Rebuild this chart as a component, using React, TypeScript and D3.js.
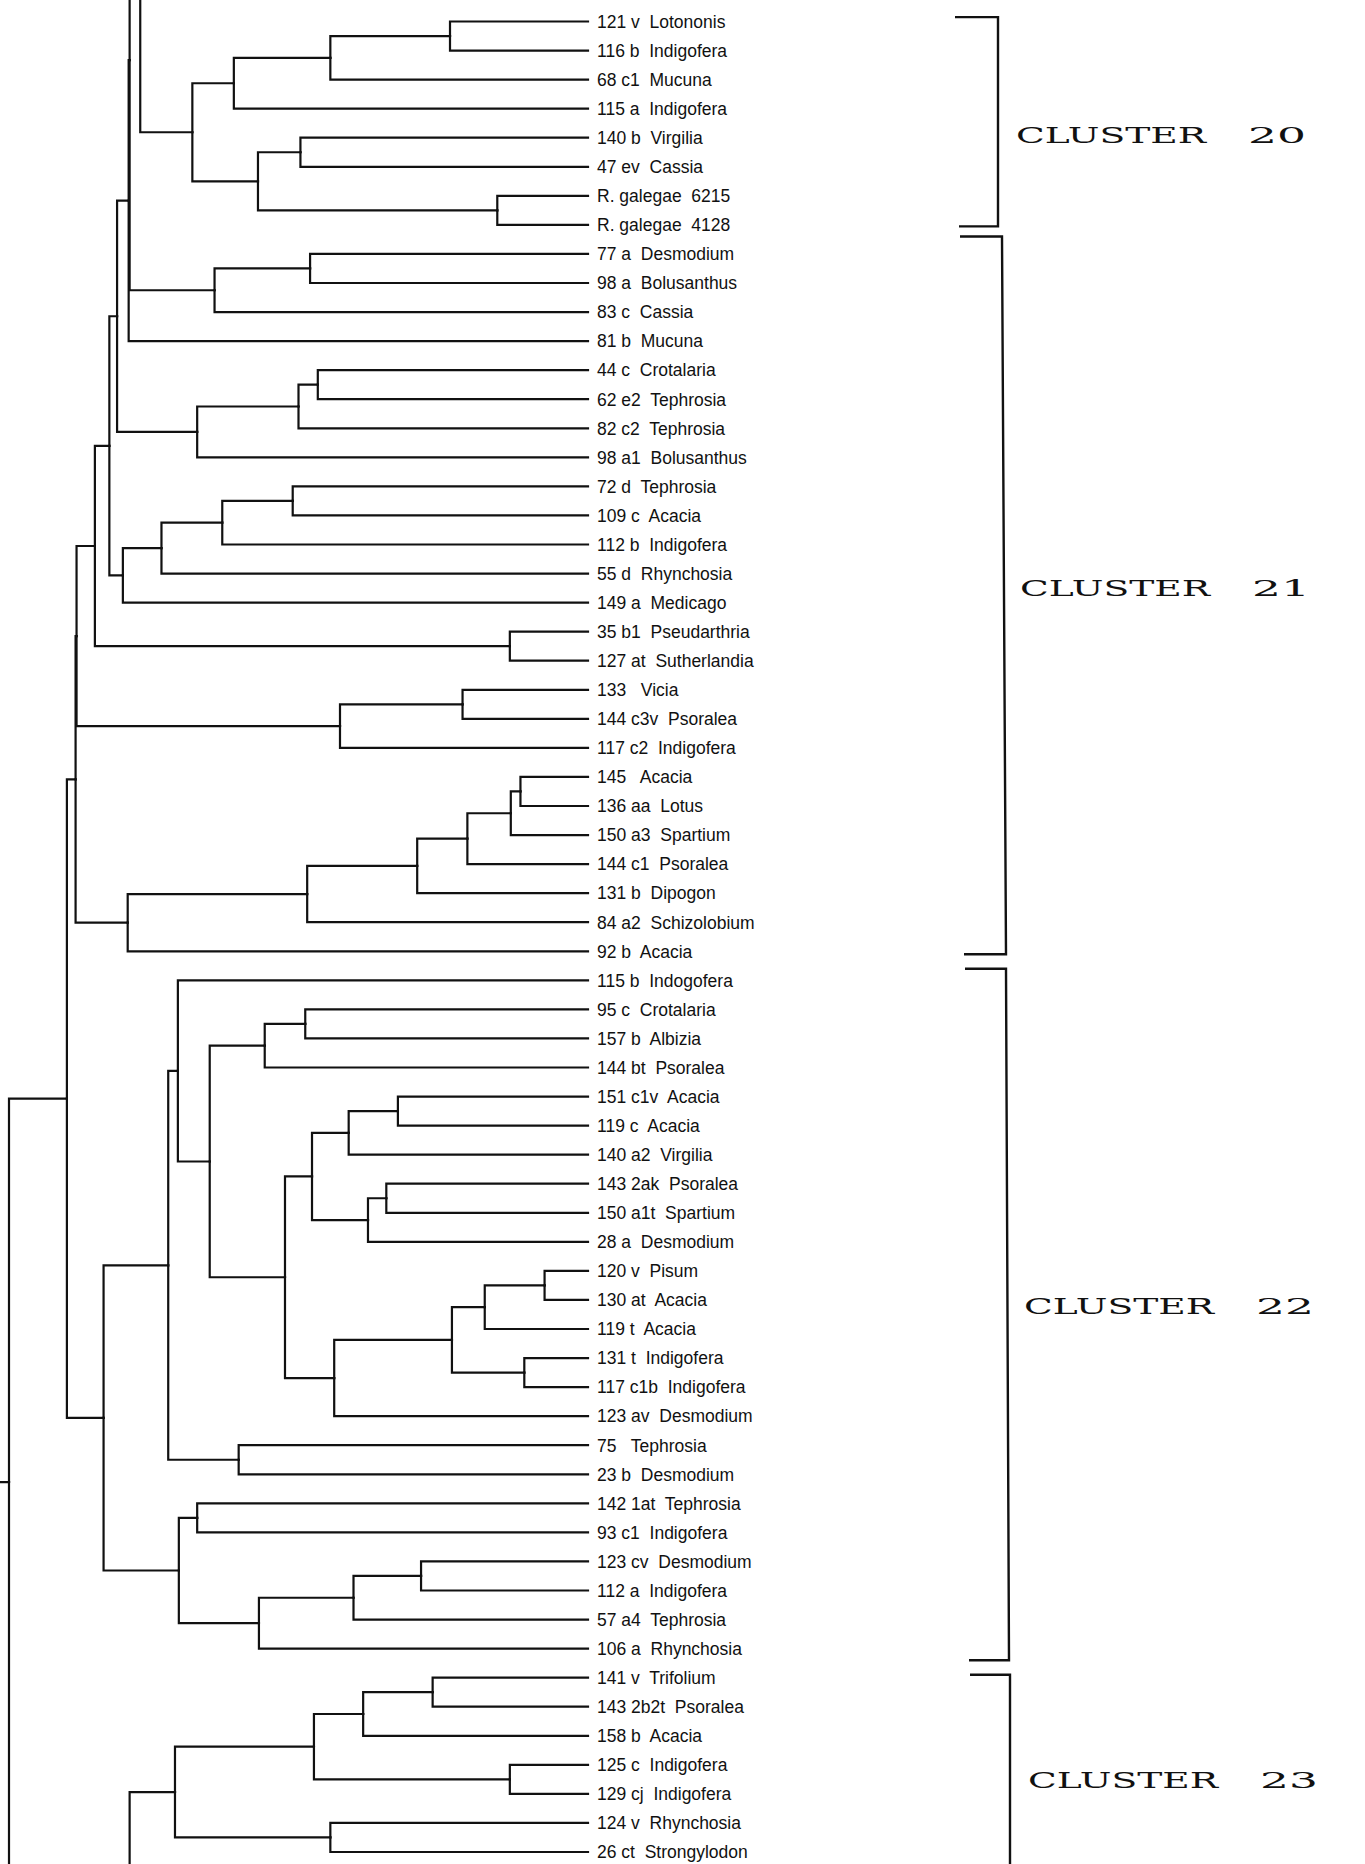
import { useEffect, useRef } from 'react'
import * as d3 from 'd3'

const W = 1365
const H = 1864

// strain labels, top to bottom
const leafLabels = [
    '121 v  Lotononis', '116 b  Indigofera', '68 c1  Mucuna', '115 a  Indigofera',
    '140 b  Virgilia', '47 ev  Cassia', 'R. galegae  6215', 'R. galegae  4128',
    '77 a  Desmodium', '98 a  Bolusanthus', '83 c  Cassia', '81 b  Mucuna',
    '44 c  Crotalaria', '62 e2  Tephrosia', '82 c2  Tephrosia', '98 a1  Bolusanthus',
    '72 d  Tephrosia', '109 c  Acacia', '112 b  Indigofera', '55 d  Rhynchosia',
    '149 a  Medicago', '35 b1  Pseudarthria', '127 at  Sutherlandia', '133   Vicia',
    '144 c3v  Psoralea', '117 c2  Indigofera', '145   Acacia', '136 aa  Lotus',
    '150 a3  Spartium', '144 c1  Psoralea', '131 b  Dipogon', '84 a2  Schizolobium',
    '92 b  Acacia', '115 b  Indogofera', '95 c  Crotalaria', '157 b  Albizia',
    '144 bt  Psoralea', '151 c1v  Acacia', '119 c  Acacia', '140 a2  Virgilia',
    '143 2ak  Psoralea', '150 a1t  Spartium', '28 a  Desmodium', '120 v  Pisum',
    '130 at  Acacia', '119 t  Acacia', '131 t  Indigofera', '117 c1b  Indigofera',
    '123 av  Desmodium', '75   Tephrosia', '23 b  Desmodium', '142 1at  Tephrosia',
    '93 c1  Indigofera', '123 cv  Desmodium', '112 a  Indigofera', '57 a4  Tephrosia',
    '106 a  Rhynchosia', '141 v  Trifolium', '143 2b2t  Psoralea', '158 b  Acacia',
    '125 c  Indigofera', '129 cj  Indigofera', '124 v  Rhynchosia', '26 ct  Strongylodon',
]

// branches that continue on the neighbouring pages (row numbers outside this page)
const offPage = [
    { id: 'above', row: -17 },
    { id: 'below', row: 66 },
    { id: 'rest', row: 100 },
]

// linkage table: [node, child a, child b, similarity %]
const merges: [string, number | string, number | string, number][] = [
    ['n1', 0, 1, 85.7], ['n2', 'n1', 2, 73.3], ['n3', 'n2', 3, 63.3],
    ['n4', 4, 5, 70.2], ['n5', 6, 7, 90.6], ['n6', 'n4', 'n5', 65.8],
    ['n7', 'n3', 'n6', 59.0], ['n8', 'above', 'n7', 53.6],
    ['n9', 8, 9, 71.2], ['n10', 'n9', 10, 61.3], ['n11', 'n8', 'n10', 52.5],
    ['n12', 'n11', 11, 52.4], ['n13', 12, 13, 72.0], ['n14', 'n13', 14, 70.0],
    ['n15', 'n14', 15, 59.5], ['n16', 'n12', 'n15', 51.2],
    ['n17', 16, 17, 69.4], ['n18', 'n17', 18, 62.1], ['n19', 'n18', 19, 55.8],
    ['n20', 'n19', 20, 51.8], ['n21', 'n16', 'n20', 50.4],
    ['n22', 21, 22, 91.9], ['n23', 'n21', 'n22', 48.9],
    ['n24', 23, 24, 87.0], ['n25', 'n24', 25, 74.3], ['n26', 'n23', 'n25', 47.0],
    ['n27', 26, 27, 93.0], ['n28', 'n27', 28, 92.0], ['n29', 'n28', 29, 87.5],
    ['n30', 'n29', 30, 82.3], ['n31', 'n30', 31, 70.9], ['n32', 'n31', 32, 52.3],
    ['n33', 'n26', 'n32', 46.9],
    ['n34', 34, 35, 70.7], ['n35', 'n34', 36, 66.5],
    ['n36', 37, 38, 80.3], ['n37', 'n36', 39, 75.2],
    ['n38', 40, 41, 79.1], ['n39', 'n38', 42, 77.2], ['n40', 'n37', 'n39', 71.4],
    ['n41', 43, 44, 95.5], ['n42', 'n41', 45, 89.3], ['n43', 46, 47, 93.4],
    ['n44', 'n42', 'n43', 85.9], ['n45', 'n44', 48, 73.7], ['n46', 'n40', 'n45', 68.6],
    ['n47', 'n35', 'n46', 60.8], ['n48', 33, 'n47', 57.5],
    ['n49', 49, 50, 63.8], ['n50', 'n48', 'n49', 56.5],
    ['n51', 51, 52, 59.5], ['n52', 53, 54, 82.7], ['n53', 'n52', 55, 75.7],
    ['n54', 'n53', 56, 65.9], ['n55', 'n51', 'n54', 57.6],
    ['n56', 'n50', 'n55', 49.8], ['n57', 'n33', 'n56', 46.0],
    ['n58', 57, 58, 83.9], ['n59', 'n58', 59, 76.7], ['n60', 60, 61, 91.9],
    ['n61', 'n59', 'n60', 71.6], ['n62', 62, 63, 73.3], ['n63', 'n61', 'n62', 57.2],
    ['n64', 'n63', 'below', 52.5],
    ['n65', 'n57', 'n64', 40.0],
    ['n66', 'n65', 'rest', 38.0],
]

const clusterNames = ['CLUSTER 20', 'CLUSTER 21', 'CLUSTER 22', 'CLUSTER 23']
// first / last row covered by each bracket
const clusterRows = [[-0.15, 7.05], [7.4, 32.1], [32.6, 56.4], [56.9, 70]]
const clusterLabelRow = [3.9, 19.5, 44.2, 60.5]

function buildTree() {
    const nodes: Record<string, any> = {}
    leafLabels.forEach((label, i) => { nodes[String(i)] = { id: String(i), row: i, label } })
    offPage.forEach(o => { nodes[o.id] = { id: o.id, row: o.row, label: '' } })
    merges.forEach(([id, a, b, sim]) => {
        nodes[id] = { id, sim, children: [nodes[String(a)], nodes[String(b)]] }
    })
    return nodes[merges[merges.length - 1][0]]
}

function Dendrogram() {
    const svgRef = useRef<SVGSVGElement>(null)

    useEffect(() => {
        if (!svgRef.current) return
        const svg = d3.select(svgRef.current)
        svg.selectAll('*').remove()

        const x = d3.scaleLinear().domain([40, 100]).range([9, 588])
        const y = d3.scaleLinear().domain([0, 63]).range([21.5, 1852])

        const root = d3.hierarchy(buildTree())
        // leaves sit on their rows, each join sits midway between its branches
        root.eachAfter((n: any) => {
            if (n.children) {
                n.py = d3.mean(n.children, (c: any) => c.py)
                n.px = x(n.data.sim)
            } else {
                n.py = y(n.data.row)
                n.px = x(100)
            }
        })

        const g = svg.append('g')

        g.selectAll('.link')
            .data(root.links())
            .enter().append('path')
            .attr('class', 'link')
            .attr('fill', 'none')
            .attr('stroke', '#111')
            .attr('stroke-width', 2.2)
            .attr('stroke-linecap', 'square')
            .attr('d', (d: any) => `M${d.source.px},${d.source.py}V${d.target.py}H${d.target.px}`)

        // strain names
        g.selectAll('.leaf')
            .data(root.leaves().filter((d: any) => d.data.label))
            .enter().append('text')
            .attr('class', 'leaf')
            .attr('x', x(100) + 9)
            .attr('y', (d: any) => d.py)
            .attr('dy', '0.36em')
            .attr('fill', '#111')
            .attr('font-family', '"Liberation Sans", Arial, sans-serif')
            .attr('font-size', '17.5px')
            .style('white-space', 'pre')
            .text((d: any) => d.data.label)

        // cluster brackets
        const slant = [0, 4, 3, 0]
        clusterNames.forEach((name, i) => {
            const top = y(clusterRows[i][0])
            const bot = y(clusterRows[i][1])
            const left = 955 + 5 * i
            const right = 998 + 4 * i
            g.append('path')
                .attr('fill', 'none')
                .attr('stroke', '#111')
                .attr('stroke-width', 2.4)
                .attr('d', `M${left},${top}H${right}L${right + slant[i]},${bot}H${left + 4}`)

            const [word, num] = name.split(' ')
            const ly = y(clusterLabelRow[i])
            const lx = right + 18
            const t = g.append('g')
                .attr('font-family', '"DejaVu Serif", "Liberation Serif", serif')
                .attr('font-size', '23px')
                .attr('fill', '#111')
            t.append('text')
                .attr('x', lx).attr('y', ly).attr('dy', '0.36em')
                .attr('textLength', 190).attr('lengthAdjust', 'spacingAndGlyphs')
                .text(word)
            t.append('text')
                .attr('x', lx + 232).attr('y', ly).attr('dy', '0.36em')
                .attr('textLength', 58).attr('lengthAdjust', 'spacingAndGlyphs')
                .text(num)
        })
    }, [])

    return <svg ref={svgRef} width={W} height={H} style={{ display: 'block', background: '#fff' }} />
}

export default function App() {
    return (
        <div>
            <style>{'body{margin:0;background:#fff}'}</style>
            <Dendrogram />
        </div>
    )
}
